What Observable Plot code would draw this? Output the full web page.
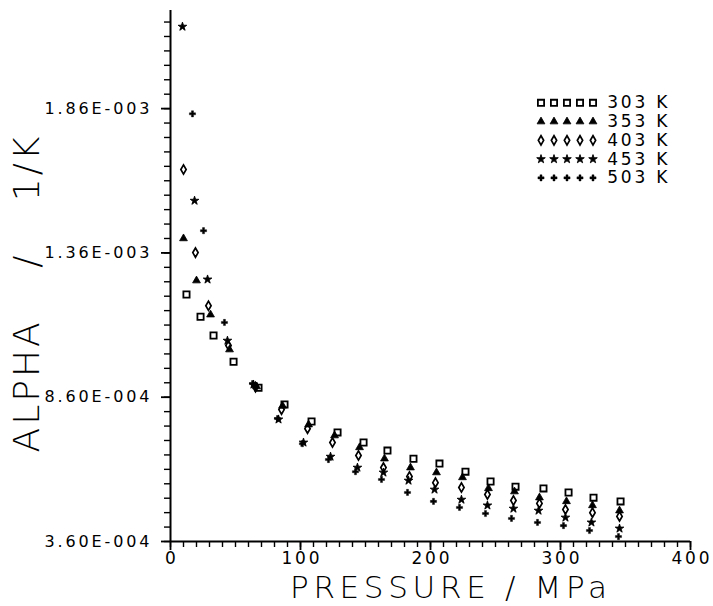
<!DOCTYPE html>
<html>
<head>
<meta charset="utf-8">
<script src="https://cdn.jsdelivr.net/npm/d3@7"></script>
<script src="https://cdn.jsdelivr.net/npm/@observablehq/plot@0.6"></script>
<style>
  html, body { margin: 0; padding: 0; background: #fff; }
  #chart svg { display: block; }
</style>
</head>
<body>
<div id="chart"></div>
<script>
// ---- data (pressure in MPa, alpha in units of 1e-4 1/K) ----
const series = ["303 K", "353 K", "403 K", "453 K", "503 K"];

const p303 = [12.3, 23.1, 33.1, 48.5, 67.7, 87.7, 108.5, 128.5, 148.5, 166.9, 186.9, 206.9, 226.9, 246.2, 265.4, 286.9, 306.2, 325.4, 346.2];
const a303 = [12.16, 11.39, 10.74, 9.83, 8.93, 8.35, 7.76, 7.38, 7.03, 6.75, 6.47, 6.30, 6.02, 5.68, 5.50, 5.44, 5.30, 5.12, 4.99];

const p353 = [10.0, 20.0, 30.8, 45.4, 66.2, 86.2, 106.2, 126.2, 145.4, 164.6, 184.6, 204.6, 224.6, 244.6, 264.6, 283.8, 304.6, 324.6, 345.4];
const a353 = [14.10, 12.64, 11.46, 10.25, 8.97, 8.30, 7.65, 7.27, 6.86, 6.47, 6.16, 5.99, 5.82, 5.44, 5.33, 5.12, 4.99, 4.85, 4.67];

const p403 = [10.0, 19.2, 29.2, 44.6, 65.4, 85.4, 105.4, 124.6, 144.6, 163.8, 183.8, 203.8, 223.8, 243.8, 263.8, 283.8, 303.8, 324.6, 345.4];
const a403 = [16.49, 13.61, 11.77, 10.39, 8.95, 8.17, 7.51, 7.03, 6.58, 6.16, 5.85, 5.64, 5.47, 5.23, 5.02, 4.92, 4.71, 4.60, 4.47];

const p453 = [9.2, 18.5, 28.5, 43.8, 63.8, 83.1, 102.3, 123.1, 143.8, 163.8, 183.1, 203.1, 223.8, 243.8, 263.8, 283.1, 303.8, 323.8, 345.4];
const a453 = [21.44, 15.41, 12.68, 10.56, 9.04, 7.83, 7.03, 6.54, 6.16, 5.99, 5.71, 5.40, 5.05, 4.85, 4.74, 4.67, 4.43, 4.26, 4.05];

const p503 = [16.9, 25.4, 41.5, 63.1, 82.3, 101.5, 121.5, 142.3, 162.3, 182.3, 202.3, 222.3, 242.3, 262.3, 282.3, 302.3, 322.3, 344.6];
const a503 = [18.42, 14.37, 11.19, 9.07, 7.86, 6.99, 6.44, 6.02, 5.75, 5.30, 4.99, 4.78, 4.57, 4.40, 4.26, 4.15, 3.98, 3.77];

const xTicks = [0, 100, 200, 300, 400];
const xTickLabels = ["0", "100", "200", "300", "400"];
const yTicks = [3.6e-4, 8.6e-4, 1.36e-3, 1.86e-3];
const yTickLabels = ["3.60E-004", "8.60E-004", "1.36E-003", "1.86E-003"];
const xTitle = "PRESSURE / MPa";
const yTitle = "ALPHA / 1/K";

// ---- build ----
const toRows = (P, A) => P.map((p, i) => ({p, a: A[i] * 1e-4}));
const styles = [
  {symbol: "square",   r: 3.5, fill: "none",  stroke: "black", strokeWidth: 1.8},
  {symbol: "triangle", r: 2.9, fill: "black", stroke: "black", strokeWidth: 0.8},
  {symbol: "diamond",  r: 2.8, fill: "none",  stroke: "black", strokeWidth: 1.7},
  {symbol: "star",     r: 2.7, fill: "black", stroke: "black", strokeWidth: 0.9},
  {symbol: "cross",    r: 2.6, fill: "black", stroke: "black", strokeWidth: 0.4}
];
const data = [toRows(p303, a303), toRows(p353, a353), toRows(p403, a403), toRows(p453, a453), toRows(p503, a503)];

// legend laid out in data space (upper right of the frame)
const legX = [285, 295, 305, 315, 325];
const legTextX = 336;
const legY0 = 18.8e-4, legDY = 0.65e-4;
const legendDots = series.map((s, i) => legX.map(x => ({x, y: legY0 - i * legDY})));
const legendText = series.map((s, i) => ({x: legTextX, y: legY0 - i * legDY, label: s}));

const yMinor = d3.range(0, 37).map(i => (3.6 + 0.5 * i) * 1e-4);
const xMinor = d3.range(0, 401, 10);
const blank = () => "";
const titleFont = "'DejaVu Sans ExtraLight', 'DejaVu Sans', sans-serif";

const marks = [
  // minor ticks (no labels)
  Plot.axisX({ticks: xMinor, tickSize: 6, tickFormat: blank, label: null, strokeWidth: 1.4}),
  Plot.axisY({ticks: yMinor, tickSize: 6, tickFormat: blank, label: null, strokeWidth: 1.4}),
  // major ticks + labels
  Plot.axisX({ticks: xTicks, tickSize: 9, tickPadding: 1, strokeWidth: 1.8,
    tickFormat: d => xTickLabels[xTicks.indexOf(d)], label: null, fontSize: 17}),
  Plot.axisY({ticks: yTicks, tickSize: 9, tickPadding: 12, strokeWidth: 1.8,
    tickFormat: d => yTickLabels[yTicks.indexOf(d)], label: null, fontSize: 16}),
  Plot.ruleX([0], {strokeWidth: 2}),
  Plot.ruleY([3.6e-4], {strokeWidth: 2}),
  // axis titles
  Plot.text([xTitle], {frameAnchor: "bottom", textAnchor: "middle", dx: 18, dy: 46.5, fontSize: 31, lineAnchor: "middle", fontFamily: titleFont, fontWeight: 200}),
  Plot.text([yTitle], {frameAnchor: "left", textAnchor: "middle", rotate: -90, dx: -143, dy: 17, fontSize: 36, lineAnchor: "middle", fontFamily: titleFont, fontWeight: 200}),
  // data
  ...data.map((rows, i) => Plot.dot(rows, {x: "p", y: "a", ...styles[i]})),
  // legend
  ...legendDots.map((rows, i) => Plot.dot(rows, {x: "x", y: "y", ...styles[i]})),
  Plot.text(legendText, {x: "x", y: "y", text: "label", textAnchor: "start", fontSize: 17, lineAnchor: "middle"})
];

const chart = Plot.plot({
  width: 713,
  height: 606,
  marginLeft: 170,
  marginRight: 23,
  marginTop: 10,
  marginBottom: 65,
  style: {fontFamily: "DejaVu Sans", fontSize: "16px", color: "black", background: "white"},
  x: {domain: [0, 400]},
  y: {domain: [3.6e-4, 2.2e-3]},
  marks
});

// text fitting to mimic the plotter font widths
chart.querySelectorAll("text").forEach(t => {
  const s = t.textContent;
  const fit = w => { t.setAttribute("textLength", w); t.setAttribute("lengthAdjust", "spacing"); };
  if (s === xTitle) fit(317);
  else if (s === yTitle) { t.style.letterSpacing = "3px"; t.style.wordSpacing = "37px"; }
  else if (series.includes(s)) fit(60);
  else if (yTickLabels.includes(s)) fit(105);
  else if (s.length === 3 && xTickLabels.includes(s)) fit(38);
});

document.getElementById("chart").appendChild(chart);
</script>
</body>
</html>
